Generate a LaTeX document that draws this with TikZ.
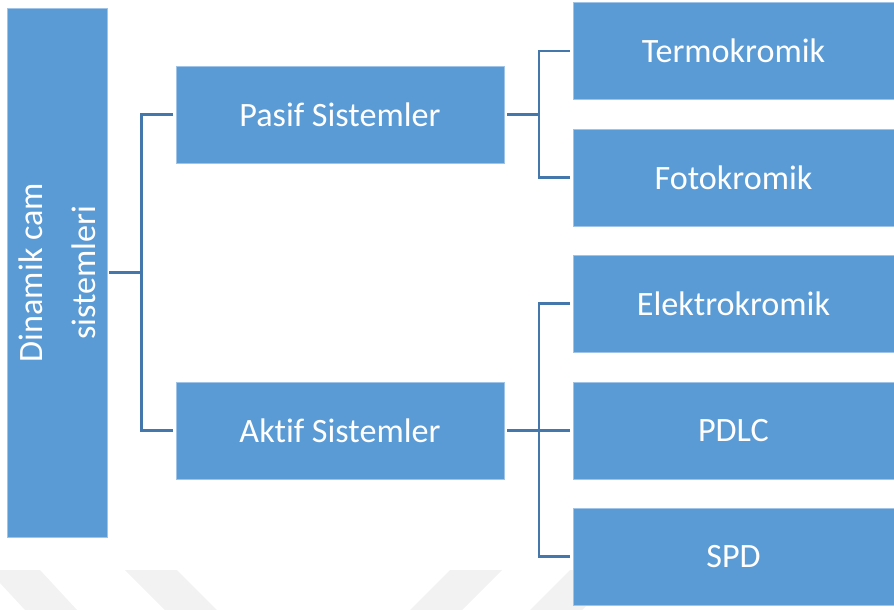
\documentclass[tikz,border=0pt]{standalone}
\usepackage{fontspec}
\setmainfont{Carlito}[Ligatures={NoCommon}]
\definecolor{boxblue}{RGB}{91,155,213}
\definecolor{boxedge}{RGB}{160,196,232}
\definecolor{linkblue}{RGB}{68,120,172}
\definecolor{markgray}{RGB}{242,242,242}
\begin{document}
\begin{tikzpicture}[x=0.75pt,y=-0.75pt,
  box/.style={rectangle, fill=boxblue, draw=boxedge, line width=0.6pt,
    inner sep=0pt, text=white, font=\fontsize{25.6}{30}\selectfont},
  midbox/.style={box, minimum width=246pt, minimum height=72.75pt},
  leafbox/.style={box, minimum width=240.75pt, minimum height=72.75pt},
  conn/.style={draw=linkblue, line width=1.7pt},
  wm/.style={fill=markgray, draw=none}]
\useasboundingbox (0,0) rectangle (894,610);

% faint chevron marks along the bottom edge
\fill[wm] (0,570) -- (40,570) -- (77,610) -- (25,610) -- (0,583) -- cycle;
\fill[wm] (125,570) -- (177,570) -- (217,610) -- (165,610) -- cycle;
\fill[wm] (450,570) -- (502,570) -- (462,610) -- (410,610) -- cycle;
\fill[wm] (570,570) -- (622,570) -- (582,610) -- (530,610) -- cycle;

% root
\node[box, minimum width=75pt, minimum height=396.75pt] (dc) at (57,272.5) {};
\node[rotate=90, align=center, text=white,
  font=\fontsize{25.6}{40}\selectfont] (dctext) at (57,272.5)
  {Dinamik cam\\sistemleri};

% second level
\node[midbox] (pasif) at (340,114.5) {Pasif Sistemler};
\node[midbox] (aktif) at (340,430.5) {Aktif Sistemler};

% leaves
\node[leafbox] (termo) at (733.5,51)    {Termokromik};
\node[leafbox] (foto)  at (733.5,177.5) {Fotokromik};
\node[leafbox] (elek)  at (733.5,303.5) {Elektrokromik};
\node[leafbox] (pdlc)  at (733.5,430.5) {PDLC};
\node[leafbox] (spd)   at (733.5,556.5) {SPD};

% junction points of the bracket connectors
\coordinate (jl) at (141.5,272.5);
\coordinate (jp) at (539,114.5);
\coordinate (ja) at (539,430.5);

\draw[conn, shorten <=1.5pt] (dc.east) -- (jl);
\draw[conn, shorten <=2pt, shorten >=2pt] (pasif.west) -| (jl) |- (aktif.west);

\draw[conn, shorten <=2pt] (pasif.east) -- (jp);
\draw[conn, shorten <=2pt, shorten >=2pt] (termo.west) -| (jp) |- (foto.west);

\draw[conn, shorten <=2pt, shorten >=2pt] (aktif.east) -- (pdlc.west);
\draw[conn, shorten <=2pt, shorten >=2pt] (elek.west) -| (ja) |- (spd.west);
\end{tikzpicture}
\end{document}
